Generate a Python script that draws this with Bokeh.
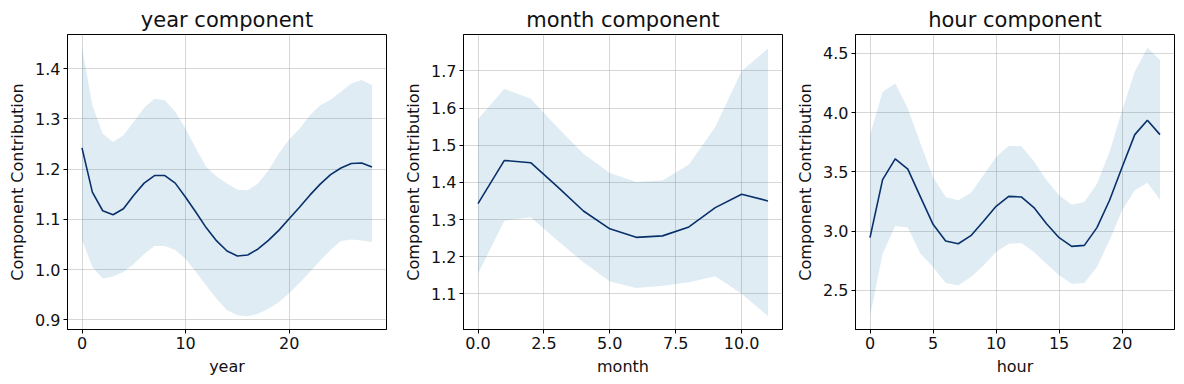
from bokeh.plotting import figure
from bokeh.layouts import row
from bokeh.models import FixedTicker, ColumnDataSource
from bokeh.embed import file_html
from bokeh.resources import INLINE

# ---------------- data ----------------
year_x = list(range(29))
year_mean = [1.242, 1.154, 1.117, 1.109, 1.121, 1.148, 1.172, 1.187, 1.187, 1.172,
             1.144, 1.114, 1.083, 1.057, 1.037, 1.027, 1.029, 1.041, 1.058, 1.078,
             1.101, 1.124, 1.148, 1.170, 1.189, 1.202, 1.211, 1.212, 1.204]
year_upper = [1.443, 1.327, 1.270, 1.254, 1.267, 1.294, 1.322, 1.340, 1.337, 1.314,
              1.280, 1.241, 1.204, 1.185, 1.171, 1.159, 1.158, 1.171, 1.197, 1.231,
              1.259, 1.280, 1.307, 1.327, 1.338, 1.354, 1.370, 1.377, 1.367]
year_lower = [1.059, 1.005, 0.982, 0.986, 0.995, 1.011, 1.031, 1.047, 1.047, 1.039,
              1.021, 0.995, 0.968, 0.942, 0.919, 0.909, 0.907, 0.912, 0.922, 0.935,
              0.953, 0.973, 0.995, 1.018, 1.039, 1.057, 1.060, 1.058, 1.055]

month_x = list(range(12))
month_mean = [1.343, 1.459, 1.453, 1.389, 1.323, 1.275, 1.252, 1.256, 1.280, 1.332, 1.368, 1.350]
month_upper = [1.570, 1.652, 1.625, 1.549, 1.477, 1.425, 1.401, 1.405, 1.448, 1.549, 1.700, 1.760]
month_lower = [1.154, 1.297, 1.306, 1.244, 1.185, 1.133, 1.116, 1.122, 1.131, 1.147, 1.100, 1.040]

hour_x = list(range(24))
hour_mean = [2.945, 3.435, 3.610, 3.523, 3.289, 3.058, 2.917, 2.894, 2.962, 3.083,
             3.210, 3.294, 3.289, 3.199, 3.063, 2.945, 2.872, 2.880, 3.030, 3.261,
             3.542, 3.815, 3.937, 3.815]
hour_upper = [3.810, 4.176, 4.246, 4.035, 3.739, 3.458, 3.289, 3.261, 3.323, 3.472,
              3.627, 3.720, 3.717, 3.590, 3.430, 3.303, 3.224, 3.246, 3.401, 3.669,
              4.021, 4.345, 4.548, 4.444]
hour_lower = [2.280, 2.810, 3.044, 3.030, 2.810, 2.697, 2.562, 2.542, 2.613, 2.711,
              2.824, 2.894, 2.900, 2.824, 2.725, 2.627, 2.556, 2.562, 2.697, 2.923,
              3.176, 3.346, 3.408, 3.266]

year_xticks = [0, 10, 20]
year_xlabels = ["0", "10", "20"]
year_yticks = [0.9, 1.0, 1.1, 1.2, 1.3, 1.4]
year_ylabels = ["0.9", "1.0", "1.1", "1.2", "1.3", "1.4"]

month_xticks = [0, 2.5, 5, 7.5, 10]
month_xlabels = ["0.0", "2.5", "5.0", "7.5", "10.0"]
month_yticks = [1.1, 1.2, 1.3, 1.4, 1.5, 1.6, 1.7]
month_ylabels = ["1.1", "1.2", "1.3", "1.4", "1.5", "1.6", "1.7"]

hour_xticks = [0, 5, 10, 15, 20]
hour_xlabels = ["0", "5", "10", "15", "20"]
hour_yticks = [2.5, 3.0, 3.5, 4.0, 4.5]
hour_ylabels = ["2.5", "3.0", "3.5", "4.0", "4.5"]

FONT = "DejaVu Sans"
LINE_COLOR = "#08306b"
FILL_COLOR = "#1f77b4"


def make_panel(name, xs, mean, lower, upper, xticks, xlabels, yticks, ylabels,
               x_range, y_range, border_left, border_right):
    p = figure(frame_width=319, frame_height=295,
               x_range=x_range, y_range=y_range,
               output_backend="svg", toolbar_location=None,
               min_border_left=border_left, min_border_right=border_right,
               min_border_top=34, min_border_bottom=38,
               title=f"{name} component")
    src = ColumnDataSource(dict(x=xs, mean=mean, lower=lower, upper=upper))
    p.varea(x="x", y1="lower", y2="upper", source=src,
            fill_color=FILL_COLOR, fill_alpha=0.14)
    p.line(x="x", y="mean", source=src, line_color=LINE_COLOR, line_width=1.6)

    p.title.text_font = FONT
    p.title.text_font_size = "21px"
    p.title.text_font_style = "normal"
    p.title.align = "center"
    p.title.text_color = "#111111"
    p.title.standoff = 5

    p.outline_line_color = "black"
    p.outline_line_width = 1
    p.background_fill_color = "white"
    p.border_fill_color = "white"

    for ax, ticks, labels in ((p.xaxis[0], xticks, xlabels), (p.yaxis[0], yticks, ylabels)):
        ax.ticker = FixedTicker(ticks=ticks)
        ax.major_label_overrides = {t: l for t, l in zip(ticks, labels)}
        ax.minor_tick_line_color = None
        ax.major_tick_in = 0
        ax.major_tick_out = 4
        ax.major_tick_line_color = "black"
        ax.axis_line_color = "black"
        ax.major_label_text_font = FONT
        ax.major_label_text_font_size = "16px"
        ax.major_label_text_color = "#111111"
        ax.axis_label_text_font = FONT
        ax.axis_label_text_font_size = "16px"
        ax.axis_label_text_font_style = "normal"
        ax.axis_label_text_color = "#111111"
        ax.major_label_standoff = 3
        ax.axis_label_standoff = 5
    p.xaxis.axis_label = name
    p.yaxis.axis_label = "Component Contribution"

    p.grid.grid_line_color = "#b0b0b0"
    p.grid.grid_line_alpha = 0.5
    p.grid.grid_line_width = 1
    return p


p1 = make_panel("year", year_x, year_mean, year_lower, year_upper,
                year_xticks, year_xlabels, year_yticks, year_ylabels,
                (-1.4, 29.4), (0.8807, 1.4677), 67, 15)
p2 = make_panel("month", month_x, month_mean, month_lower, month_upper,
                month_xticks, month_xlabels, month_yticks, month_ylabels,
                (-0.55, 11.55), (1.004, 1.798), 60, 11)
p3 = make_panel("hour", hour_x, hour_mean, hour_lower, hour_upper,
                hour_xticks, hour_xlabels, hour_yticks, hour_ylabels,
                (-1.15, 24.15), (2.17, 4.66), 59, 2)

layout = row(p1, p2, p3, spacing=0)
open("out.html", "w").write(file_html(layout, INLINE))
